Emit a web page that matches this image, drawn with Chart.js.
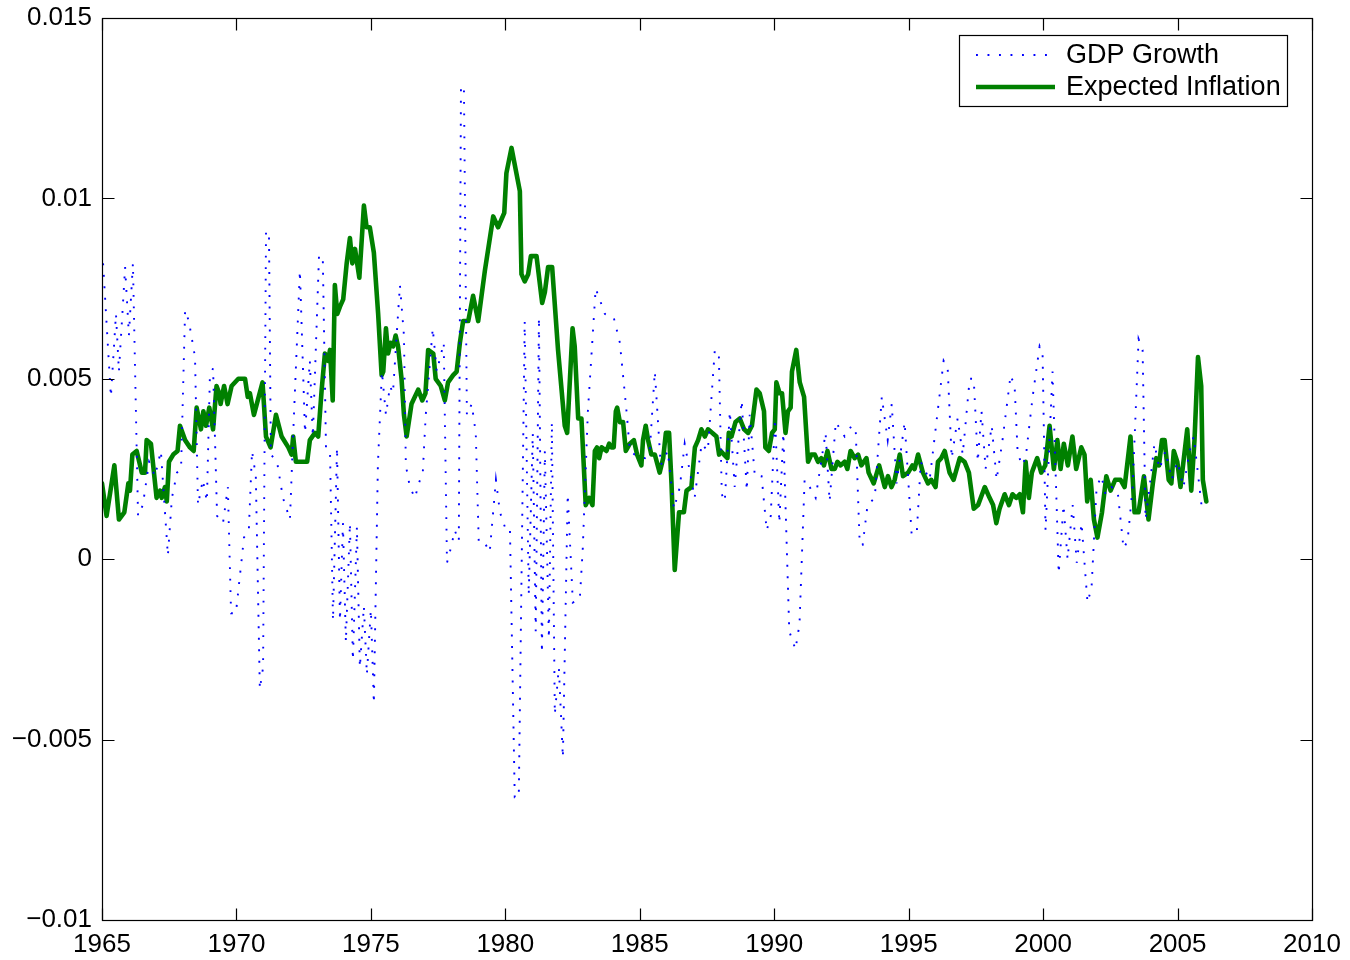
<!DOCTYPE html>
<html lang="en">
<head>
  <meta charset="UTF-8" />
  <title>GDP Growth and Expected Inflation</title>
  <script src="https://cdn.jsdelivr.net/npm/chart.js"></script>
  <style>
    html, body { margin: 0; padding: 0; background: #fff; }
    canvas { display: block; }
  </style>
</head>
<body>
  <canvas id="chart" width="1350" height="960"></canvas>

  <script>
    // Expected inflation (green line)
    const inflYears = [
      1965.00,1965.17,1965.46,1965.63,1965.83,1965.98,1966.04,1966.13,1966.29,1966.48,
      1966.60,1966.66,1966.82,1967.03,1967.16,1967.22,1967.34,1967.41,1967.49,1967.65,
      1967.81,1967.90,1968.09,1968.27,1968.41,1968.52,1968.68,1968.77,1968.87,1968.99,
      1969.13,1969.26,1969.36,1969.41,1969.54,1969.67,1969.82,1970.07,1970.32,1970.42,
      1970.50,1970.65,1970.97,1971.10,1971.27,1971.47,1971.68,1971.93,1972.05,1972.11,
      1972.21,1972.42,1972.63,1972.73,1972.92,1973.04,1973.17,1973.29,1973.41,1973.48,
      1973.58,1973.66,1973.75,1973.85,1973.97,1974.10,1974.22,1974.31,1974.41,1974.49,
      1974.57,1974.74,1974.84,1974.96,1975.11,1975.27,1975.40,1975.46,1975.56,1975.64,
      1975.73,1975.83,1975.92,1976.01,1976.14,1976.23,1976.33,1976.51,1976.76,1976.91,
      1977.03,1977.13,1977.32,1977.41,1977.60,1977.75,1977.87,1978.06,1978.19,1978.31,
      1978.43,1978.62,1978.80,1978.99,1979.24,1979.55,1979.73,1979.96,1980.04,1980.23,
      1980.54,1980.60,1980.72,1980.85,1980.95,1981.16,1981.37,1981.47,1981.59,1981.74,
      1981.96,1982.21,1982.30,1982.50,1982.58,1982.71,1982.83,1982.99,1983.12,1983.24,
      1983.33,1983.41,1983.49,1983.58,1983.76,1983.86,1983.95,1984.03,1984.11,1984.16,
      1984.26,1984.38,1984.48,1984.63,1984.78,1984.90,1985.06,1985.12,1985.22,1985.31,
      1985.43,1985.56,1985.74,1985.87,1985.97,1986.09,1986.18,1986.30,1986.46,1986.64,
      1986.74,1986.92,1987.05,1987.17,1987.29,1987.42,1987.54,1987.70,1987.85,1987.95,
      1988.01,1988.13,1988.26,1988.31,1988.41,1988.56,1988.72,1988.88,1989.03,1989.17,
      1989.34,1989.46,1989.62,1989.67,1989.80,1989.92,1990.02,1990.08,1990.20,1990.29,
      1990.42,1990.51,1990.61,1990.66,1990.82,1990.95,1991.11,1991.26,1991.38,1991.51,
      1991.63,1991.75,1991.85,1991.98,1992.13,1992.25,1992.35,1992.47,1992.62,1992.72,
      1992.84,1992.99,1993.12,1993.24,1993.43,1993.51,1993.70,1993.90,1994.11,1994.23,
      1994.36,1994.48,1994.67,1994.79,1994.98,1995.14,1995.22,1995.35,1995.53,1995.72,
      1995.84,1996.00,1996.09,1996.21,1996.34,1996.52,1996.67,1996.90,1997.08,1997.24,
      1997.42,1997.58,1997.83,1998.01,1998.14,1998.26,1998.38,1998.57,1998.73,1998.86,
      1999.00,1999.13,1999.25,1999.35,1999.47,1999.58,1999.78,1999.93,2000.08,2000.24,
      2000.40,2000.53,2000.65,2000.77,2000.92,2001.09,2001.23,2001.42,2001.54,2001.64,
      2001.77,2001.89,2002.02,2002.19,2002.35,2002.51,2002.68,2002.88,2003.03,2003.25,
      2003.40,2003.55,2003.75,2003.92,2004.08,2004.21,2004.31,2004.42,2004.52,2004.67,
      2004.77,2004.86,2004.99,2005.11,2005.36,2005.51,2005.63,2005.76,2005.88,2005.94,
      2006.07
    ];
    const inflValues = [
      0.0021,0.0012,0.0026,0.0011,0.0013,0.0021,0.0019,0.0029,0.0030,0.0024,
      0.0024,0.0033,0.0032,0.0017,0.0019,0.0017,0.0020,0.0016,0.0027,0.0029,
      0.0030,0.0037,0.0033,0.0031,0.0030,0.0042,0.0036,0.0041,0.0037,0.0042,
      0.0036,0.0048,0.0046,0.0043,0.0048,0.0043,0.0048,0.0050,0.0050,0.0045,
      0.0046,0.0040,0.0049,0.0034,0.0031,0.0040,0.0034,0.0031,0.0029,0.0034,
      0.0027,0.0027,0.0027,0.0033,0.0035,0.0034,0.0047,0.0057,0.0055,0.0058,
      0.0044,0.0076,0.0068,0.0070,0.0072,0.0082,0.0089,0.0082,0.0086,0.0082,
      0.0078,0.0098,0.0092,0.0092,0.0085,0.0068,0.0051,0.0052,0.0064,0.0057,
      0.0060,0.0059,0.0062,0.0059,0.0050,0.0040,0.0034,0.0043,0.0047,0.0044,
      0.0046,0.0058,0.0057,0.0050,0.0048,0.0044,0.0049,0.0051,0.0052,0.0060,
      0.0066,0.0066,0.0073,0.0066,0.0080,0.0095,0.0092,0.0096,0.0107,0.0114,
      0.0102,0.0079,0.0077,0.0079,0.0084,0.0084,0.0071,0.0074,0.0081,0.0081,
      0.0058,0.0037,0.0035,0.0064,0.0059,0.0039,0.0039,0.0015,0.0017,0.0015,
      0.0030,0.0031,0.0028,0.0031,0.0030,0.0032,0.0031,0.0031,0.0041,0.0042,
      0.0038,0.0038,0.0030,0.0032,0.0033,0.0029,0.0026,0.0033,0.0037,0.0033,
      0.0029,0.0029,0.0024,0.0028,0.0035,0.0035,0.0021,-0.0003,0.0013,0.0013,
      0.0019,0.0020,0.0031,0.0033,0.0036,0.0034,0.0036,0.0035,0.0034,0.0029,
      0.0030,0.0029,0.0028,0.0035,0.0034,0.0038,0.0039,0.0036,0.0035,0.0037,
      0.0047,0.0046,0.0041,0.0031,0.0030,0.0035,0.0036,0.0049,0.0046,0.0046,
      0.0035,0.0041,0.0042,0.0052,0.0058,0.0049,0.0045,0.0027,0.0029,0.0029,
      0.0027,0.0028,0.0026,0.0030,0.0025,0.0025,0.0027,0.0026,0.0027,0.0025,
      0.0030,0.0028,0.0029,0.0026,0.0028,0.0024,0.0021,0.0026,0.0020,0.0023,
      0.0020,0.0022,0.0029,0.0023,0.0024,0.0026,0.0025,0.0029,0.0024,0.0021,
      0.0022,0.0020,0.0027,0.0028,0.0030,0.0024,0.0022,0.0028,0.0027,0.0024,
      0.0014,0.0015,0.0020,0.0017,0.0015,0.0010,0.0014,0.0018,0.0015,0.0018,
      0.0017,0.0018,0.0013,0.0027,0.0017,0.0024,0.0028,0.0024,0.0026,0.0037,
      0.0025,0.0033,0.0025,0.0032,0.0026,0.0034,0.0025,0.0031,0.0029,0.0016,
      0.0022,0.0011,0.0006,0.0013,0.0023,0.0019,0.0022,0.0022,0.0020,0.0034,
      0.0013,0.0013,0.0023,0.0011,0.0021,0.0028,0.0026,0.0033,0.0033,0.0022,
      0.0021,0.0030,0.0027,0.0020,0.0036,0.0019,0.0033,0.0056,0.0048,0.0022,
      0.0016
    ];

    // GDP growth (blue dotted line), turning points
    const gdpYears = [
      1965.04,1965.33,1965.52,1965.63,1965.86,1966.00,1966.15,1966.34,1966.52,1966.75,
      1966.97,1967.19,1967.45,1967.60,1967.79,1967.94,1968.09,1968.23,1968.46,1968.57,
      1968.75,1968.90,1969.01,1969.13,1969.28,1969.50,1969.68,1969.80,1969.98,1970.28,
      1970.46,1970.58,1970.72,1970.87,1970.99,1971.10,1971.21,1971.28,1971.51,1971.73,
      1971.99,1972.10,1972.36,1972.55,1972.73,1972.84,1973.07,1973.21,1973.33,1973.48,
      1973.59,1973.74,1973.85,1973.96,1974.07,1974.22,1974.33,1974.48,1974.59,1974.74,
      1974.85,1975.00,1975.11,1975.26,1975.41,1975.56,1975.71,1975.82,1976.08,1976.23,
      1976.30,1976.45,1976.64,1976.78,1976.93,1977.04,1977.30,1977.45,1977.71,1977.83,
      1977.97,1978.12,1978.27,1978.35,1978.46,1978.57,1978.75,1978.90,1979.01,1979.20,
      1979.42,1979.65,1979.80,1979.98,1980.17,1980.35,1980.50,1980.72,1980.87,1981.02,
      1981.13,1981.25,1981.36,1981.47,1981.62,1981.73,1981.84,1981.99,1982.14,1982.32,
      1982.51,1982.77,1982.88,1983.07,1983.36,1983.51,1983.70,1984.03,1984.26,1984.52,
      1984.63,1984.81,1985.19,1985.37,1985.56,1985.78,1986.04,1986.27,1986.49,1986.67,
      1987.04,1987.30,1987.53,1987.79,1987.94,1988.05,1988.16,1988.35,1988.53,1988.79,
      1988.98,1989.09,1989.28,1989.53,1989.72,1989.87,1990.03,1990.19,1990.34,1990.56,
      1990.79,1990.94,1991.13,1991.32,1991.54,1991.91,1992.06,1992.29,1992.62,1992.88,
      1993.03,1993.18,1993.29,1993.47,1993.74,1994.00,1994.22,1994.37,1994.55,1994.85,
      1995.11,1995.30,1995.45,1995.78,1996.30,1996.45,1996.60,1996.82,1997.01,1997.27,
      1997.42,1997.57,1997.71,1997.86,1998.09,1998.27,1998.49,1998.79,1998.94,1999.05,
      1999.20,1999.35,1999.61,1999.87,1999.98,2000.09,2000.35,2000.58,2000.76,2000.91,
      2001.10,2001.25,2001.43,2001.65,2001.80,2001.99,2002.17,2002.32,2002.54,2002.77,
      2002.99,2003.14,2003.33,2003.55,2003.70,2003.81,2003.96,2004.14,2004.33,2004.55,
      2004.78,2005.00,2005.22,2005.45,2005.60,2005.74,2005.89,2006.04
    ];
    const gdpValues = [
      0.0082,0.0045,0.0068,0.0052,0.0081,0.0062,0.0082,0.0012,0.0015,0.0027,
      0.0023,0.0030,0.0001,0.0017,0.0024,0.0025,0.0069,0.0066,0.0056,0.0015,
      0.0022,0.0016,0.0050,0.0053,0.0012,0.0010,0.0020,-0.0015,-0.0015,0.0006,
      0.0008,0.0030,0.0023,-0.0036,-0.0030,0.0091,0.0090,0.0029,0.0027,0.0017,
      0.0011,0.0033,0.0080,0.0035,0.0055,0.0034,0.0084,0.0084,0.0031,0.0030,
      -0.0017,0.0031,-0.0017,0.0010,-0.0023,0.0010,-0.0028,0.0009,-0.0030,-0.0013,
      -0.0032,-0.0014,-0.0040,0.0026,0.0052,0.0040,0.0048,0.0046,0.0076,0.0062,
      0.0026,0.0020,0.0017,0.0021,0.0024,0.0040,0.0064,0.0052,0.0060,-0.0001,
      0.0003,0.0008,0.0005,0.0131,0.0131,0.0040,0.0043,0.0035,0.0005,0.0005,
      0.0002,0.0022,0.0013,0.0009,0.0009,-0.0066,-0.0066,0.0066,-0.0010,0.0035,
      -0.0020,0.0067,-0.0026,0.0030,-0.0022,0.0038,-0.0043,-0.0030,-0.0055,0.0018,
      -0.0012,-0.0011,0.0003,0.0041,0.0075,0.0072,0.0068,0.0067,0.0060,0.0040,
      0.0030,0.0029,0.0028,0.0030,0.0052,0.0026,0.0030,0.0014,0.0020,0.0032,
      0.0017,0.0032,0.0030,0.0058,0.0057,0.0018,0.0016,0.0041,0.0020,0.0044,
      0.0019,0.0040,0.0023,0.0023,0.0008,0.0012,0.0039,0.0010,0.0035,-0.0020,
      -0.0025,-0.0018,0.0022,0.0020,0.0017,0.0035,0.0016,0.0038,0.0034,0.0037,
      0.0036,0.0004,0.0004,0.0015,0.0017,0.0045,0.0033,0.0043,0.0021,0.0038,
      0.0007,0.0007,0.0027,0.0022,0.0055,0.0053,0.0028,0.0039,0.0029,0.0050,
      0.0050,0.0027,0.0041,0.0025,0.0037,0.0022,0.0033,0.0051,0.0048,0.0030,
      0.0026,0.0028,0.0045,0.0059,0.0057,0.0008,0.0052,-0.0004,0.0015,0.0000,
      0.0015,-0.0001,0.0010,-0.0012,-0.0008,0.0020,0.0023,0.0018,0.0020,0.0019,
      0.0003,0.0005,0.0020,0.0061,0.0058,0.0011,0.0020,0.0032,0.0025,0.0030,
      0.0022,0.0027,0.0020,0.0030,0.0034,0.0025,0.0015,0.0015
    ];

    const yTickValues = [-0.01, -0.005, 0, 0.005, 0.01, 0.015];
    const yTickLabels = ["\u22120.01", "\u22120.005", "0", "0.005", "0.01", "0.015"];
    const seriesNames = ["GDP Growth", "Expected Inflation"];

    const FONT = "'Liberation Sans', Arial, Helvetica, sans-serif";

    const toPoints = (xs, ys) => xs.map((x, i) => ({ x: x, y: ys[i] }));

    // MATLAB style box with inward ticks on all four sides, plus the legend box
    const framePlugin = {
      id: "frame",
      afterDraw(chart) {
        const { ctx, chartArea: a, scales } = chart;
        const x = scales.x, y = scales.y;
        const L = Math.round(a.left) + 0.5, R = Math.round(a.right) + 0.5;
        const T = Math.round(a.top) + 0.5, B = Math.round(a.bottom) + 0.5;
        ctx.save();
        ctx.strokeStyle = "#000";
        ctx.lineWidth = 1.2;
        ctx.strokeRect(L, T, R - L, B - T);
        ctx.beginPath();
        x.ticks.forEach(t => {
          const px = Math.round(x.getPixelForValue(t.value)) + 0.5;
          ctx.moveTo(px, B); ctx.lineTo(px, B - 12);
          ctx.moveTo(px, T); ctx.lineTo(px, T + 12);
        });
        y.ticks.forEach(t => {
          const py = Math.round(y.getPixelForValue(t.value)) + 0.5;
          ctx.moveTo(L, py); ctx.lineTo(L + 12, py);
          ctx.moveTo(R, py); ctx.lineTo(R - 12, py);
        });
        ctx.stroke();

        // legend
        const box = { left: 959.5, top: 35.5, w: 328, h: 71 };
        ctx.fillStyle = "#fff";
        ctx.fillRect(box.left, box.top, box.w, box.h);
        ctx.lineWidth = 1.2;
        ctx.strokeRect(box.left, box.top, box.w, box.h);
        const rows = [55, 87];
        chart.data.datasets.forEach((ds, i) => {
          ctx.save();
          ctx.strokeStyle = ds.borderColor;
          ctx.lineWidth = ds.borderWidth;
          ctx.setLineDash(ds.borderDash || []);
          ctx.beginPath();
          ctx.moveTo(976, rows[i]);
          ctx.lineTo(1055, rows[i]);
          ctx.stroke();
          ctx.restore();
          ctx.fillStyle = "#000";
          ctx.font = "27px " + FONT;
          ctx.textBaseline = "middle";
          ctx.textAlign = "left";
          ctx.fillText(ds.label, 1066, rows[i] + 1);
        });
        ctx.restore();
      }
    };

    new Chart(document.getElementById("chart"), {
      type: "line",
      data: {
        datasets: [
          {
            label: seriesNames[0],
            data: toPoints(gdpYears, gdpValues),
            borderColor: "#0000ff",
            borderWidth: 1.9,
            borderDash: [1.9, 9.6],
            pointRadius: 0,
            tension: 0,
            fill: false
          },
          {
            label: seriesNames[1],
            data: toPoints(inflYears, inflValues),
            borderColor: "#008000",
            borderWidth: 4.6,
            borderJoinStyle: "round",
            borderCapStyle: "round",
            pointRadius: 0,
            tension: 0,
            fill: false
          }
        ]
      },
      options: {
        responsive: false,
        animation: false,
        devicePixelRatio: 1,
        layout: { padding: { top: 18, right: 38, left: 0, bottom: 0 } },
        plugins: {
          legend: { display: false },
          tooltip: { enabled: false }
        },
        scales: {
          x: {
            type: "linear",
            min: 1965,
            max: 2010,
            grid: { display: false, drawTicks: false },
            border: { display: false },
            afterFit: s => {
              s.height = 40;
              s.paddingLeft = 0;
              s.paddingRight = 0;
            },
            ticks: {
              stepSize: 5,
              autoSkip: false,
              maxRotation: 0,
              padding: 9,
              color: "#000",
              font: { family: FONT, size: 26 },
              callback: v => String(v)
            }
          },
          y: {
            min: -0.01,
            max: 0.015,
            grid: { display: false, drawTicks: false },
            border: { display: false },
            afterFit: s => {
              s.width = 102;
              s.paddingTop = 0;
              s.paddingBottom = 0;
            },
            ticks: {
              stepSize: 0.005,
              autoSkip: false,
              padding: 10,
              color: "#000",
              font: { family: FONT, size: 26 },
              callback: v => {
                const i = Math.round((v - yTickValues[0]) / 0.005);
                return yTickLabels[i];
              }
            }
          }
        }
      },
      plugins: [framePlugin]
    });
  </script>
</body>
</html>
